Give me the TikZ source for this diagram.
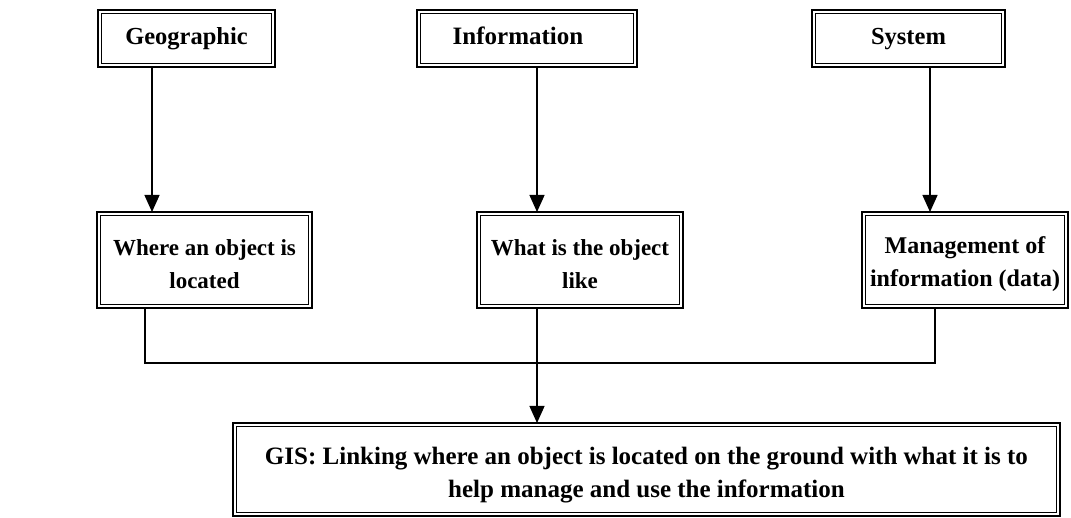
\documentclass[tikz,border=0pt]{standalone}
\usepackage{fontspec}
\setmainfont{Liberation Serif}
\usetikzlibrary{arrows.meta}
\begin{document}
\begin{tikzpicture}[x=1pt,y=-1pt,
  box/.style={draw=black, line width=1.8pt, fill=white, inner sep=0pt, outer sep=0pt},
  label/.style={align=center, text=black, font=\fontsize{#1}{33}\selectfont\bfseries},
  label/.default=25,
  innerframe/.style={draw=black, line width=1.1pt},
  link/.style={draw=black, line width=1.3pt},
  arr/.style={link, -{Triangle[width=15pt,length=17pt]}}]
\useasboundingbox (0,0) rectangle (1071,518);

% frames
\node[box, minimum width=177pt, minimum height=57pt] (geo) at (186.5,38.5) {};
\node[box, minimum width=220pt, minimum height=57pt] (inf) at (527,38.5) {};
\node[box, minimum width=193pt, minimum height=57pt] (sys) at (908.5,38.5) {};
\node[box, minimum width=215pt, minimum height=96pt] (where) at (204.5,260) {};
\node[box, minimum width=206pt, minimum height=96pt] (what) at (580,260) {};
\node[box, minimum width=206pt, minimum height=96pt] (mgmt) at (965,260) {};
\node[box, minimum width=827pt, minimum height=93pt] (gis) at (646.5,469.5) {};

% inner line of each double frame
\foreach \n in {geo,inf,sys,where,what,mgmt,gis}
  \draw[innerframe] ([shift={(3.5,3.5)}]\n.north west) rectangle ([shift={(-3.5,-3.5)}]\n.south east);

% texts
\node[label=24.5, anchor=base] (tgeo) at (geo.center |- 0,45) {Geographic};
\node[label=25, anchor=base] (tinf) at (518,45) {Information};
\node[label=24.5, anchor=base] (tsys) at (sys.center |- 0,45) {System};
\node[label=23, yshift=-4pt] (twhere) at (where) {Where an object is\\located};
\node[label=23, yshift=-4pt] (twhat) at (what) {What is the object\\like};
\node[label=24, yshift=-4pt] (tmgmt) at (mgmt) {Management of\\information (data)};
\node[label=25, yshift=-6pt] (tgis) at (gis)
  {GIS: Linking where an object is located on the ground with what it is to\\help manage and use the information};

% connector columns and the joining bus
\coordinate (xa) at (152,0);
\coordinate (xb) at (537,0);
\coordinate (xc) at (930,0);
\coordinate (xl) at (145,0);
\coordinate (xr) at (935,0);
\coordinate (ybus) at (0,363);

\draw[arr] (geo.south -| xa) -- (where.north -| xa);
\draw[arr] (inf.south -| xb) -- (what.north -| xb);
\draw[arr] (sys.south -| xc) -- (mgmt.north -| xc);
\draw[link] (where.south -| xl) |- (ybus -| xr) -- (mgmt.south -| xr);
\draw[arr] (what.south -| xb) -- (gis.north -| xb);
\end{tikzpicture}
\end{document}
